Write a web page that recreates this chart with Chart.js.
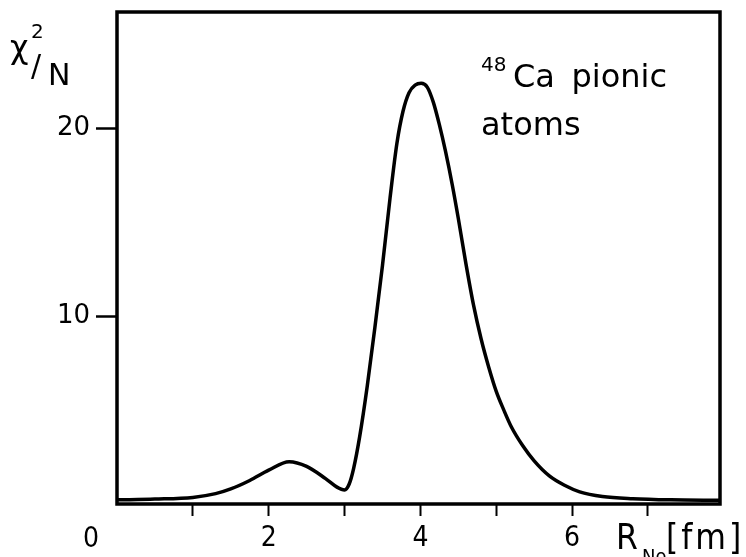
<!DOCTYPE html>
<html>
<head>
<meta charset="utf-8">
<script src="https://cdn.jsdelivr.net/npm/chart.js@4"></script>
<style>
html,body{margin:0;padding:0;background:#fff;}
#wrap{width:746px;height:557px;position:relative;}
</style>
</head>
<body>
<div id="wrap"><canvas id="c" width="746" height="557"></canvas></div>
<script>
// Curve: R_No [fm] vs chi^2/N
const rValues = [0.0, 0.5, 1.0, 1.3, 1.5, 1.75, 2.0, 2.27, 2.5, 2.75, 2.9, 3.0, 3.06, 3.12, 3.2, 3.3, 3.4, 3.5, 3.6, 3.69, 3.77, 3.85, 3.93, 4.01, 4.09, 4.17, 4.25, 4.33, 4.42, 4.5, 4.6, 4.7, 4.8, 4.9, 5.0, 5.1, 5.2, 5.35, 5.5, 5.7, 5.9, 6.1, 6.4, 6.8, 7.3, 7.95];
const chiValues = [0.22, 0.26, 0.35, 0.55, 0.8, 1.25, 1.8, 2.25, 2.0, 1.35, 0.9, 0.75, 1.05, 1.9, 3.6, 6.3, 9.4, 12.7, 16.3, 19.2, 20.9, 21.9, 22.3, 22.4, 22.2, 21.4, 20.2, 18.8, 17.0, 15.2, 12.8, 10.6, 8.8, 7.3, 6.0, 5.0, 4.1, 3.1, 2.3, 1.5, 1.0, 0.65, 0.4, 0.28, 0.22, 0.2];
const xTickValues = [1, 2, 3, 4, 5, 6, 7];
const xTickLabels = ['0', '2', '4', '6'];
const yTickValues = [10, 20];
const yTickLabels = ['10', '20'];
const annotationLines = ['Ca pionic', 'atoms'];
const isotope = '48';

const points = rValues.map((r, i) => ({x: r, y: chiValues[i]}));
const COND = "'DejaVu Sans Condensed', 'Liberation Sans Narrow', 'DejaVu Sans'";

const textPlugin = {
  id: 'texts',
  afterDraw(chart) {
    const ctx = chart.ctx;
    const a = chart.chartArea;
    const xs = chart.scales.x;
    ctx.save();
    // frame
    ctx.strokeStyle = '#000';
    ctx.lineWidth = 3.5;
    ctx.strokeRect(a.left, a.top, a.right - a.left, a.bottom - a.top);
    ctx.fillStyle = '#000';
    ctx.textBaseline = 'alphabetic';
    // x "0" label placed left of the axis
    ctx.font = "28px " + COND;
    ctx.textAlign = 'center';
    ctx.fillText(xTickLabels[0], xs.getPixelForValue(0) - 26, 547);
    // x axis title R_No[fm]
    ctx.textAlign = 'left';
    ctx.font = "35px " + COND;
    ctx.fillText('R', 616, 549);
    ctx.font = "20px " + COND;
    ctx.fillText('No', 642, 563);
    ctx.font = "35px " + COND;
    try { ctx.letterSpacing = '3px'; } catch (e) {}
    ctx.fillText('[fm]', 666, 549);
    try { ctx.letterSpacing = '0px'; } catch (e) {}
    // y axis title chi^2/N
    ctx.font = "32px 'DejaVu Sans'";
    ctx.fillText('\u03C7', 10, 58);
    ctx.font = "20px 'DejaVu Sans'";
    ctx.fillText('2', 31, 38);
    ctx.font = "30px 'DejaVu Sans'";
    ctx.fillText('/', 31, 76);
    ctx.fillText('N', 48, 85);
    // annotation
    ctx.font = "20px 'DejaVu Sans'";
    ctx.fillText(isotope, 481, 71);
    ctx.font = "32px 'DejaVu Sans'";
    ctx.fillText('Ca\u2009 pionic', 513, 87);
    ctx.fillText(annotationLines[1], 481, 135);
    ctx.restore();
  }
};

new Chart(document.getElementById('c'), {
  type: 'line',
  data: {
    datasets: [{
      data: points,
      borderColor: '#000',
      borderWidth: 3.5,
      pointRadius: 0,
      fill: false,
      cubicInterpolationMode: 'monotone'
    }]
  },
  options: {
    responsive: false,
    animation: false,
    devicePixelRatio: 1,
    layout: {padding: {top: 12, right: 26, left: 0, bottom: 0}},
    plugins: {legend: {display: false}, tooltip: {enabled: false}},
    scales: {
      x: {
        type: 'linear',
        min: 0,
        max: 7.95,
        afterBuildTicks: s => { s.ticks = xTickValues.map(v => ({value: v})); },
        afterFit: s => { s.height = 53; s.paddingLeft = 0; s.paddingRight = 0; },
        border: {display: false},
        grid: {drawOnChartArea: false, drawTicks: true, tickLength: 12, tickWidth: 2, tickColor: '#000'},
        ticks: {
          color: '#000',
          padding: 6,
          maxRotation: 0,
          autoSkip: false,
          font: {family: COND, size: 28},
          callback: v => { const i = xTickLabels.indexOf(String(v)); return (i > 0) ? xTickLabels[i] : ''; }
        }
      },
      y: {
        type: 'linear',
        min: 0,
        max: 26.2,
        afterBuildTicks: s => { s.ticks = yTickValues.map(v => ({value: v})); },
        afterFit: s => { s.width = 117; s.paddingTop = 0; s.paddingBottom = 0; },
        border: {display: false},
        grid: {drawOnChartArea: false, drawTicks: true, tickLength: 21, tickWidth: 2.5, tickColor: '#000'},
        ticks: {
          color: '#000',
          padding: 6,
          font: {family: "'DejaVu Sans'", size: 26},
          callback: v => { const i = yTickValues.indexOf(v); return i >= 0 ? yTickLabels[i] : ''; }
        }
      }
    }
  },
  plugins: [textPlugin]
});
</script>
</body>
</html>
